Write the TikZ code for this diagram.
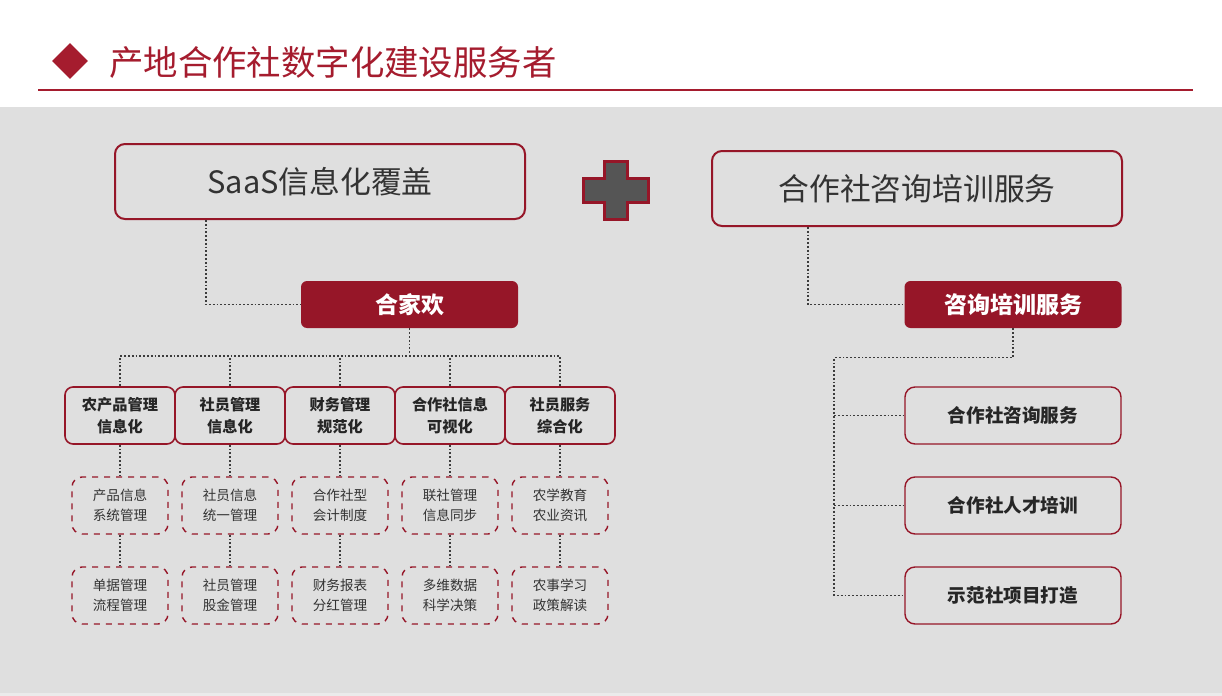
\documentclass[tikz,border=0pt]{standalone}
\usepackage{fontspec}
\setmainfont{Noto Sans CJK SC}
\usetikzlibrary{shapes.geometric}
\definecolor{hjred}{HTML}{961628}
\definecolor{titlered}{HTML}{A51C2E}
\definecolor{bggray}{HTML}{DFDFDF}
\definecolor{linegray}{HTML}{3C3C3C}
\definecolor{darktext}{HTML}{333333}
\definecolor{plusgray}{HTML}{555555}
\begin{document}
\begin{tikzpicture}[x=0.5pt,y=-0.5pt,
	bigbox/.style={draw=hjred,line width=1pt,rounded corners=5pt,minimum width=205pt,minimum height=37.5pt,text=darktext,font=\fontsize{15.4}{18}\selectfont},
	redbox/.style={fill=hjred,rounded corners=3pt,minimum width=108.5pt,minimum height=23.5pt,text=white,font=\fontsize{11.5}{14}\selectfont\bfseries},
	midbox/.style={draw=hjred,line width=0.8pt,rounded corners=4pt,minimum width=55pt,minimum height=28.5pt,inner sep=0pt,align=center,text=black!85,font=\fontsize{7.6}{11}\selectfont\bfseries},
	subbox/.style={draw=hjred,dashed,line width=0.7pt,rounded corners=5pt,minimum width=48pt,minimum height=28.5pt,inner sep=0pt,align=center,text=darktext,font=\fontsize{6.8}{10}\selectfont},
	rbox/.style={draw=hjred,line width=0.7pt,rounded corners=5pt,minimum width=108pt,minimum height=28.5pt,text=black!85,font=\fontsize{9.3}{12}\selectfont\bfseries},
	link/.style={draw=linegray,densely dotted,line width=0.9pt}]
	\useasboundingbox (0,0) rectangle (1222,696);
	\fill[white] (0,0) rectangle (1222,696);
	\fill[bggray] (0,107) rectangle (1222,693);
	\fill[black!8] (0,693) rectangle (1222,696);
	% header
	\node[diamond,fill=titlered,minimum width=18pt,minimum height=18pt,inner sep=0pt] (mark) at (70,61) {};
	\node[anchor=west,text=titlered,inner sep=0pt,font=\fontsize{17.2}{20}\selectfont] (title) at (109,62) {产地合作社数字化建设服务者};
	\draw[titlered,line width=0.6pt] (38,90) -- (1193,90);
	% top row
	\node[bigbox] (saas) at (320,181.5) {SaaS信息化覆盖};
	\node[bigbox] (zx) at (917,188.5) {合作社咨询培训服务};
	\draw[draw=hjred,line width=1.5pt,fill=plusgray] (604,161) -- (627,161) -- (627,178) -- (648,178) -- (648,202) -- (627,202) -- (627,219) -- (604,219) -- (604,202) -- (583,202) -- (583,178) -- (604,178) -- cycle;
	\node[redbox] (hjh) at (409.5,304.5) {合家欢};
	\node[redbox] (pxfw) at (1013,304.5) {咨询培训服务};
	\draw[link] ([xshift=46pt]saas.south west) |- (hjh.west);
	\draw[link] ([xshift=48.5pt]zx.south west) |- (pxfw.west);
	% left tree
	\foreach \i/\t in {1/{农产品管理\\信息化},2/{社员管理\\信息化},3/{财务管理\\规范化},4/{合作社信息\\可视化},5/{社员服务\\综合化}}{
		\node[midbox] (m\i) at (10+110*\i,415.5) {\t};
	}
	\foreach \i/\t in {1/{产品信息\\系统管理},2/{社员信息\\统一管理},3/{合作社型\\会计制度},4/{联社管理\\信息同步},5/{农学教育\\农业资讯}}{
		\node[subbox] (s\i) at (10+110*\i,505.5) {\t};
		\draw[link] (m\i) -- (s\i);
	}
	\foreach \i/\t in {1/{单据管理\\流程管理},2/{社员管理\\股金管理},3/{财务报表\\分红管理},4/{多维数据\\科学决策},5/{农事学习\\政策解读}}{
		\node[subbox] (t\i) at (10+110*\i,595.5) {\t};
		\draw[link] (s\i) -- (t\i);
	}
	\coordinate (bus) at ([yshift=15pt]m1.north);
	\draw[link] (m1.north) -- (bus) -| (m5.north);
	\foreach \i in {2,3,4}{
		\draw[link] (m\i.north) -- (m\i.north |- bus);
	}
	\draw[link] (hjh.south) -- (hjh.south |- bus);
	% right tree
	\node[rbox] (r1) at (1013,415.5) {合作社咨询服务};
	\node[rbox] (r2) at (1013,505.5) {合作社人才培训};
	\node[rbox] (r3) at (1013,595.5) {示范社项目打造};
	\draw[link] (pxfw.south) -- ++(0,29) -| ([xshift=-35pt]r3.west) -- (r3.west);
	\foreach \i in {1,2}{
		\draw[link] ([xshift=-35pt]r\i.west) -- (r\i.west);
	}
\end{tikzpicture}
\end{document}
